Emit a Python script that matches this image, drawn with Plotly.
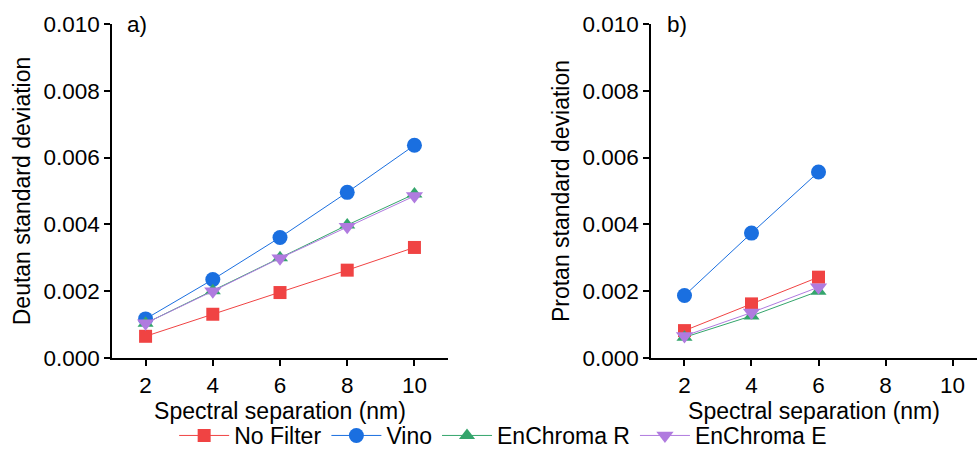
import plotly.graph_objects as go

separation = [2, 4, 6, 8, 10]
separation_protan = [2, 4, 6]

series_names = ["No Filter", "Vino", "EnChroma R", "EnChroma E"]

deutan_no_filter = [0.00065, 0.00131, 0.00196, 0.00263, 0.00331]
deutan_vino = [0.00117, 0.00235, 0.00361, 0.00496, 0.00637]
deutan_enchroma_r = [0.00104, 0.00201, 0.00300, 0.00398, 0.00491]
deutan_enchroma_e = [0.00104, 0.00200, 0.00299, 0.00393, 0.00485]

protan_no_filter = [0.00082, 0.00162, 0.00242]
protan_vino = [0.00187, 0.00374, 0.00557]
protan_enchroma_r = [0.00062, 0.00126, 0.00200]
protan_enchroma_e = [0.00066, 0.00136, 0.00212]

y_ticks = [0.000, 0.002, 0.004, 0.006, 0.008, 0.010]
x_ticks = [2, 4, 6, 8, 10]

colors = ["#F04343", "#1A6FE0", "#34A56C", "#B07BDF"]
symbols = ["square", "circle", "triangle-up", "triangle-down"]
sizes = [13, 15, 14, 15]

FONT = "Liberation Sans, Arial, sans-serif"

fig = go.Figure()

deutan = [deutan_no_filter, deutan_vino, deutan_enchroma_r, deutan_enchroma_e]
protan = [protan_no_filter, protan_vino, protan_enchroma_r, protan_enchroma_e]

for i, name in enumerate(series_names):
    fig.add_trace(go.Scatter(
        x=separation, y=deutan[i], name=name, mode="lines+markers",
        line=dict(color=colors[i], width=1),
        marker=dict(symbol=symbols[i], size=sizes[i], color=colors[i], line=dict(width=0)),
        xaxis="x", yaxis="y", legendgroup=name, showlegend=True,
    ))
for i, name in enumerate(series_names):
    fig.add_trace(go.Scatter(
        x=separation_protan, y=protan[i], name=name, mode="lines+markers",
        line=dict(color=colors[i], width=1),
        marker=dict(symbol=symbols[i], size=sizes[i], color=colors[i], line=dict(width=0)),
        xaxis="x2", yaxis="y2", legendgroup=name, showlegend=False,
    ))

axis_common = dict(
    showgrid=False, zeroline=False, showline=True, linecolor="black", linewidth=1.5,
    ticks="outside", ticklen=6, tickwidth=1.5, tickcolor="black",
    tickfont=dict(family=FONT, size=22.5, color="black"),
)
title_font = dict(family=FONT, size=23, color="black")

fig.update_layout(
    width=977, height=457,
    margin=dict(l=0, r=0, t=24, b=97),
    paper_bgcolor="white", plot_bgcolor="white",
    font=dict(family=FONT, size=22, color="black"),
    xaxis=dict(domain=[0.1146, 0.4586], range=[1, 11], tickvals=x_ticks,
               title=dict(text="Spectral separation (nm)", standoff=0, font=title_font),
               anchor="y", **axis_common),
    yaxis=dict(domain=[0, 1], range=[0, 0.010], tickvals=y_ticks, tickformat=".3f",
               title=dict(text="Deutan standard deviation", standoff=6, font=title_font),
               anchor="x", **axis_common),
    xaxis2=dict(domain=[0.6663, 1.0], range=[1, 10.73], tickvals=x_ticks,
                title=dict(text="Spectral separation (nm)", standoff=0, font=title_font),
                anchor="y2", **axis_common),
    yaxis2=dict(domain=[0, 1], range=[0, 0.010], tickvals=y_ticks, tickformat=".3f",
                title=dict(text="Protan standard deviation", standoff=6, font=title_font),
                anchor="x2", **axis_common),
    legend=dict(orientation="h", x=0.515, xanchor="center", y=-0.232, yanchor="middle",
                font=dict(family=FONT, size=23, color="black"), itemwidth=50,
                tracegroupgap=0, bgcolor="rgba(0,0,0,0)"),
    annotations=[
        dict(text="a)", x=0.128, y=1.0, xref="paper", yref="paper", showarrow=False,
             xanchor="left", yanchor="middle", font=dict(family=FONT, size=22.5)),
        dict(text="b)", x=0.681, y=1.0, xref="paper", yref="paper", showarrow=False,
             xanchor="left", yanchor="middle", font=dict(family=FONT, size=22.5)),
    ],
)

fig.write_html("out.html", config={"displayModeBar": False},
               post_script="document.body.style.margin='0';document.body.style.overflow='hidden';")
